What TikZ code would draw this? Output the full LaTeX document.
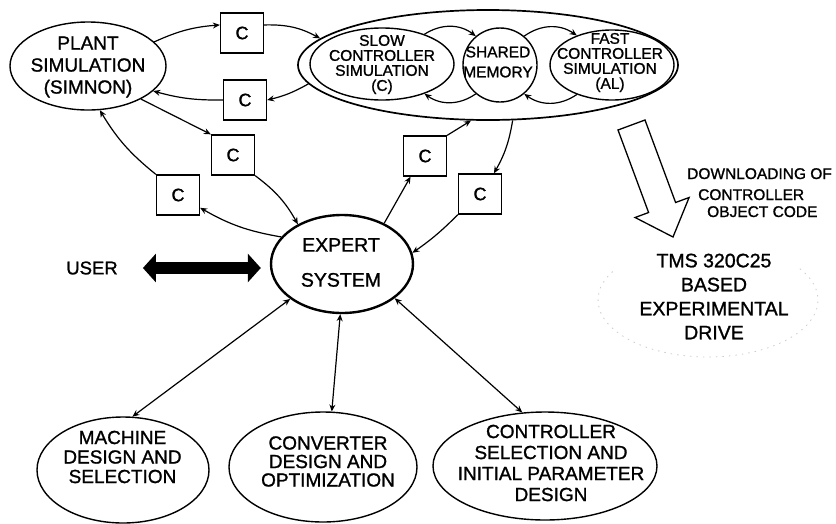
\documentclass[tikz,border=0pt]{standalone}
\usepackage{fontspec}
\setmainfont{Liberation Sans}[FakeBold=1.2]
\usetikzlibrary{shapes.geometric,arrows.meta}
\tikzset{
  ell/.style={ellipse, draw, line width=1.4pt, inner sep=0pt},
  lbl/.style={align=center, inner sep=0pt},
  cbox/.style={rectangle, draw, line width=1.3pt, minimum width=43pt, minimum height=40pt, inner sep=0pt, font=\fontsize{18}{18}\selectfont},
  conn/.style={line width=1.2pt, -{Stealth[length=7pt,width=6pt]}},
  dconn/.style={line width=1.2pt, {Stealth[length=7pt,width=6pt]}-{Stealth[length=7pt,width=6pt]}},
  fatarrow/.style={line width=12pt, {Triangle[width=28pt,length=13pt]}-{Triangle[width=28pt,length=13pt]}},
}
\begin{document}
\begin{tikzpicture}[x=1pt,y=1pt]
\useasboundingbox (0,0) rectangle (836,-523);

% ---- top row ----
\node[ell, minimum width=156pt, minimum height=88pt] (plant) at (88,-66) {};
\node[lbl, font=\fontsize{19}{22}\selectfont] (planttxt) at (88,-67) {PLANT\\SIMULATION\\(SIMNON)};

\node[ell, line width=1.7pt, minimum width=380pt, minimum height=110pt] (big) at (488,-65) {};
\node[ell, minimum width=144pt, minimum height=72pt] (slow) at (382,-64) {};
\node[lbl, font=\fontsize{15.5}{15}\selectfont] (slowtxt) at (382,-64.5) {SLOW\\CONTROLLER\\SIMULATION\\(C)};
\node[circle, draw, line width=1.4pt, minimum size=74pt, inner sep=0pt] (shm) at (500,-65) {};
\node[lbl, font=\fontsize{15.5}{20}\selectfont] (shmtxt) at (498,-62) {SHARED\\MEMORY};
\node[ell, minimum width=124pt, minimum height=70pt] (fast) at (612,-65) {};
\node[lbl, font=\fontsize{15.5}{15}\selectfont] (fasttxt) at (610,-62.5) {FAST\\CONTROLLER\\SIMULATION\\(AL)};

% ---- C boxes ----
\node[cbox] (c1) at (242,-33) {C};
\node[cbox] (c2) at (245,-100) {C};
\node[cbox] (c3) at (233,-155) {C};
\node[cbox] (c4) at (178,-195) {C};
\node[cbox] (c5) at (425,-156) {C};
\node[cbox] (c6) at (480,-194) {C};

% ---- expert system ----
\node[ell, line width=2.4pt, minimum width=142pt, minimum height=98pt] (expert) at (342,-264) {};
\node[lbl, font=\fontsize{19.5}{35}\selectfont] (experttxt) at (341,-262.5) {EXPERT\\SYSTEM};

\node[lbl, font=\fontsize{18.5}{18.5}\selectfont] (user) at (92,-268) {USER};

% ---- bottom row ----
\node[ell, minimum width=172pt, minimum height=106pt] (machine) at (123,-470) {};
\node[lbl, font=\fontsize{19}{19.5}\selectfont] (machinetxt) at (122.5,-457) {MACHINE\\DESIGN AND\\SELECTION};
\node[ell, minimum width=188pt, minimum height=110pt] (conv) at (323,-467) {};
\node[lbl, font=\fontsize{19}{18.5}\selectfont] (convtxt) at (328,-461.5) {CONVERTER\\DESIGN AND\\OPTIMIZATION};
\node[ell, minimum width=224pt, minimum height=108pt] (ctrl) at (545,-466) {};
\node[lbl, font=\fontsize{19}{21}\selectfont] (ctrltxt) at (551,-463) {CONTROLLER\\SELECTION AND\\INITIAL PARAMETER\\DESIGN};

% ---- experimental drive ----
\node[lbl, font=\fontsize{19.5}{24}\selectfont] (tms) at (714,-296.5) {TMS 320C25\\BASED\\EXPERIMENTAL\\DRIVE};
\draw[gray!40, line width=0.8pt, dash pattern=on 1.5pt off 5pt] (708,-300) ++(150:110 and 57) arc[start angle=150, end angle=395, x radius=110, y radius=57];

\node[inner sep=0pt, anchor=base west, font=\fontsize{15.5}{16}\selectfont] (dl1) at (687,-179) {DOWNLOADING OF};
\node[inner sep=0pt, anchor=base west, font=\fontsize{15.5}{16}\selectfont] (dl2) at (698,-200) {CONTROLLER};
\node[inner sep=0pt, anchor=base west, font=\fontsize{15.5}{16}\selectfont] (dl3) at (707,-217) {OBJECT CODE};

% hollow download arrow
\draw[line width=1.3pt, fill=white, line join=miter] (645,-120) -- (675.6,-202.5) -- (689.1,-197.5) -- (673,-237) -- (635.1,-217.5) -- (648.6,-212.5) -- (618,-130) -- cycle;

% ---- connectors ----
\draw[conn] (plant.20) to[bend left=10] (c1.160);
\draw[conn] (c1.20) to[bend left=15] (big.171);
\draw[conn] (big.186) to[bend left=8] (c2.east);
\draw[conn] (c2.west) to[bend left=8] (plant.-21);
\draw[conn] (plant.-32) -- (c3.north west);
\draw[conn] (c3.south east) to[bend left=12] (expert.138);
\draw[conn] (expert.156) to[bend left=10] (c4.-30);
\draw[conn] (c4.north west) to[bend left=10] (plant.-75);
\draw[conn] (expert.44) -- (c5.-125);
\draw[conn] (c5.north east) -- (big.-107);
\draw[conn] (big.-66) to[bend left=10] (c6.56);
\draw[conn] (c6.south west) to[bend left=5] (expert.9);

\draw[conn] (slow.35) to[bend left=35] (shm.130);
\draw[conn] (shm.230) to[bend left=35] (slow.-35);
\draw[conn] (shm.50) to[bend left=35] (fast.140);
\draw[conn] (fast.-140) to[bend left=35] (shm.-50);

\draw[dconn] (expert.214) -- (machine.80);
\draw[dconn] (expert.268) -- (conv.81);
\draw[dconn] (expert.-33) -- (ctrl.113);

\draw[fatarrow, shorten <=25pt, shorten >=9pt] (user.east) -- (user.east -| expert.west);
\end{tikzpicture}
\end{document}
